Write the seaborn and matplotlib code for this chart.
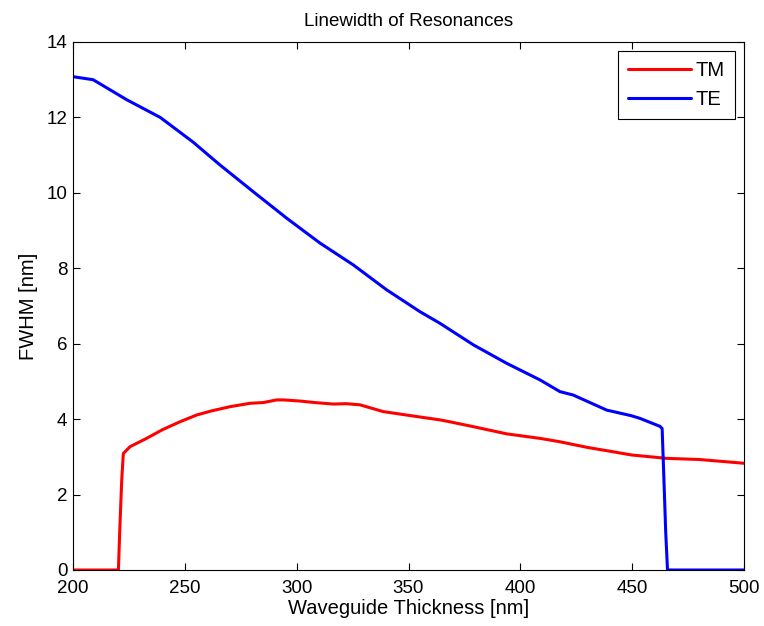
import matplotlib
matplotlib.use("Agg")
import matplotlib.pyplot as plt
import seaborn as sns
import numpy as np
import pandas as pd

# 読み取り値 (線幅 vs 導波路厚さ)
tm_x = [200, 220.3, 221.0, 221.8, 222.5, 225.5, 232.9, 240, 247.8, 255.3, 262, 270.2, 279.1,
        285.1, 291.1, 294, 301.5, 308, 316.4, 322, 328.3, 338.7, 353.6, 364.1, 368.5, 379,
        393.9, 408.8, 417.7, 430, 440, 449.7, 465.4, 480, 490, 500]
tm_y = [0, 0, 1.2, 2.4, 3.09, 3.27, 3.49, 3.72, 3.93, 4.11, 4.22, 4.33, 4.42,
        4.44, 4.51, 4.51, 4.48, 4.44, 4.40, 4.41, 4.38, 4.20, 4.07, 3.98, 3.93, 3.80,
        3.61, 3.49, 3.40, 3.25, 3.15, 3.05, 2.96, 2.93, 2.88, 2.83]

te_x = [200, 209, 224, 239, 253.6, 265.7, 280.6, 295.5, 310.4, 325.3, 340.2, 355.1, 364.1,
        379, 393.9, 408.8, 417.7, 423.6, 438.6, 449.7, 453.5, 462.4, 463.4, 464.2, 465.0,
        465.8, 480, 500]
te_y = [13.08, 13.0, 12.47, 12.0, 11.35, 10.74, 10.03, 9.33, 8.67, 8.09, 7.43, 6.85, 6.54,
        5.97, 5.48, 5.04, 4.73, 4.64, 4.24, 4.09, 4.02, 3.81, 3.75, 2.4, 1.0,
        0, 0, 0]

series_names = ["TM", "TE"]
x_ticks = [200, 250, 300, 350, 400, 450, 500]
y_ticks = [0, 2, 4, 6, 8, 10, 12, 14]

df = pd.concat([
    pd.DataFrame({"x": tm_x, "y": tm_y, "mode": "TM"}),
    pd.DataFrame({"x": te_x, "y": te_y, "mode": "TE"}),
])

sns.set_style("ticks")
plt.rcParams['font.family'] = ['Liberation Sans', 'DejaVu Sans']
plt.rcParams['text.color'] = "black"
plt.rcParams['axes.labelcolor'] = "black"

fig = plt.figure(figsize=(7.64, 6.26), dpi=100)
ax = fig.add_axes([73 / 764, 1 - 570 / 626, 671 / 764, 528 / 626])

sns.lineplot(data=df, x="x", y="y", hue="mode", hue_order=series_names,
             palette={"TM": "#ff0000", "TE": "#0000ff"}, linewidth=2.2,
             sort=False, estimator=None, ax=ax)

ax.set_xlim(200, 500)
ax.set_ylim(0, 14)
ax.set_xticks(x_ticks)
ax.set_yticks(y_ticks)
ax.tick_params(direction="in", top=True, right=True, length=5, width=0.8,
               labelsize=13.5, colors="black")
ax.tick_params(axis="x", pad=7.5)
ax.tick_params(axis="y", pad=4)
for s in ax.spines.values():
    s.set_linewidth(0.8)
    s.set_color("black")

ax.set_xlabel("Waveguide Thickness [nm]", fontsize=14.5, labelpad=1)
ax.set_ylabel("FWHM [nm]", fontsize=14.5, labelpad=6)
ax.set_title("Linewidth of Resonances", fontsize=13.5, pad=11.5)

leg = ax.legend(loc="upper right", fontsize=14.5, frameon=True, fancybox=False,
                handlelength=3.1, borderaxespad=0.45, borderpad=0.5, labelspacing=0.5,
                handletextpad=0.25)
leg.get_frame().set_edgecolor("black")
leg.get_frame().set_linewidth(0.8)
leg.get_frame().set_alpha(1)
leg.set_title(None)

fig.savefig("out.png", dpi=100)
